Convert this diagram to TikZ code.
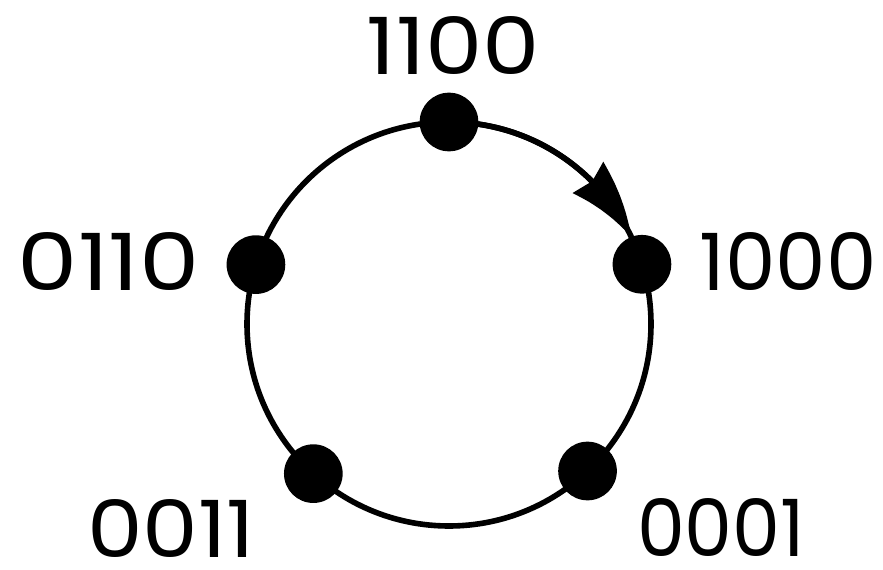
\documentclass[tikz,border=0pt]{standalone}
\usepackage{fontspec}
\setmainfont{Poppins}
\usetikzlibrary{arrows.meta,bending}
\newcommand{\dlabel}[2]{\resizebox{#1pt}{43.5pt}{#2}}
\begin{document}
\begin{tikzpicture}[x=0.75pt,y=0.75pt,
  dot/.style={circle,fill=black,inner sep=0pt,minimum size=44pt},
  lbl/.style={inner sep=0pt,font=\fontsize{60}{64}\selectfont},
  ring/.style={line width=4.2pt}]
\useasboundingbox (0,0) rectangle (883,569);
\coordinate (c) at (449,245);
\draw[ring] (c) circle[radius=202];
\node[dot] (n1100) at ([shift={(90:202)}]c) {};
\node[dot] (n1000) at ([shift={(17.2:202)}]c) {};
\node[dot] (n0110) at ([shift={(162.9:202)}]c) {};
\node[dot] (n0011) at ([shift={(227.8:202)}]c) {};
\node[dot] (n0001) at ([shift={(313.3:202)}]c) {};
\draw[ring,-{Stealth[length=56pt,width=32pt,inset=4pt,bend]}]
  (n1100.center) arc[start angle=90,end angle=25.5,radius=202];
\node[lbl] (l1100) at (453.5,523) {\dlabel{129.75}{1100}};
\node[lbl] (l1000) at (788,308) {\dlabel{132.75}{1000}};
\node[lbl] (l0110) at (109,308) {\dlabel{136.5}{0110}};
\node[lbl] (l0011) at (171,41) {\dlabel{126}{0011}};
\node[lbl] (l0001) at (721,42) {\dlabel{126}{0001}};
\end{tikzpicture}
\end{document}
